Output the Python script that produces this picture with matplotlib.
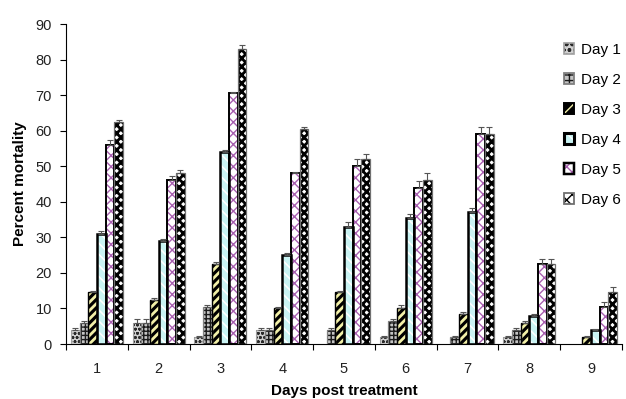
import matplotlib
matplotlib.use("Agg")
import matplotlib.pyplot as plt
from matplotlib.patches import Patch
from matplotlib.legend_handler import HandlerTuple
import numpy as np

categories = ["1", "2", "3", "4", "5", "6", "7", "8", "9"]
series_names = ["Day 1", "Day 2", "Day 3", "Day 4", "Day 5", "Day 6"]
day1 = [4, 6, 2, 4, 0, 2, 0, 2, 0]
day2 = [6, 6, 10.5, 4, 4, 6.5, 2, 4, 0]
day3 = [14.5, 12.5, 22.5, 10, 14.5, 10, 8.5, 6, 2]
day4 = [31, 29, 54, 25, 33, 35.5, 37, 8, 4]
day5 = [56, 46, 70.5, 48, 50, 44, 59, 22.5, 10.5]
day6 = [62.5, 48, 83, 60.5, 52, 46, 59, 22.5, 14.5]
err1 = [0.5, 1, 0.3, 0.5, 0, 0.3, 0, 0.3, 0]
err2 = [0.5, 1, 0.5, 0.5, 0.5, 0.5, 0.3, 0.5, 0]
err3 = [0.5, 0.5, 0.5, 0.5, 0.5, 1, 0.5, 0.5, 0.3]
err4 = [0.8, 0.5, 0.5, 0.5, 1.2, 1, 1.2, 0.5, 0.3]
err5 = [1.5, 1.2, 0.5, 0.5, 2, 1.8, 2, 1.5, 1.3]
err6 = [0.5, 1, 1, 0.5, 1.5, 2, 2, 1.5, 1.5]

values = [day1, day2, day3, day4, day5, day6]
errors = [err1, err2, err3, err4, err5, err6]

plt.rcParams['font.family'] = ['Liberation Sans', 'DejaVu Sans']

styles = [
    dict(face="#d0d0d0", hatch="oooo", hcol="#2a2a2a", hlw=0.8, edge="#a0a0a0", lw=0.8),
    dict(face="#c4c4c4", hatch="++++", hcol="#1a1a1a", hlw=1.0, edge="#808080", lw=0.9),
    dict(face="#000000", hatch="////", hcol="#f2f0a8", hlw=2.0, edge="#000000", lw=1.0),
    dict(face="#c9f3f3", hatch="\\\\\\", hcol="#ffffff", hlw=1.2, edge="#000000", lw=1.8),
    dict(face="#ffffff", hatch="xxx", hcol="#a860b0", hlw=1.0, edge="#000000", lw=1.4),
    dict(face="#ffffff", hatch="xxxx", hcol="#000000", hlw=2.0, edge="#707070", lw=0.9),
]

fig = plt.figure(figsize=(6.26, 3.99), dpi=100)
ax = fig.add_axes([66/626, 1-344/399, (622-66)/626, (344-24)/399])

x = np.arange(1, len(categories) + 1)
w = 0.14
n = len(values)
handles = []
for i, (vals, errs, st) in enumerate(zip(values, errors, styles)):
    pos = x + (i - (n - 1) / 2) * w
    v = np.array(vals, dtype=float)
    e = np.array(errs, dtype=float)
    with plt.rc_context({'hatch.linewidth': st["hlw"]}):
        ax.bar(pos, v, width=w, color=st["face"], edgecolor=st["hcol"], hatch=st["hatch"],
               linewidth=0, zorder=2)
        h1 = Patch(facecolor=st["face"], edgecolor=st["hcol"], hatch=st["hatch"][:3], linewidth=0)
    mask = v > 0
    ax.bar(pos[mask], v[mask], width=w, fill=False, edgecolor=st["edge"],
           linewidth=st["lw"], zorder=3)
    ax.errorbar(pos[mask], v[mask], yerr=[np.zeros(mask.sum()), e[mask]], fmt="none",
                ecolor="#555555", elinewidth=0.8, capsize=2.5, capthick=0.8, zorder=4)
    h2 = Patch(fill=False, edgecolor=st["edge"], linewidth=st["lw"] + 0.4)
    handles.append((h1, h2))

ax.set_xlim(0.5, len(categories) + 0.5)
ax.set_ylim(0, 90)
ax.set_yticks(np.arange(0, 91, 10))
ax.set_xticks(x)
ax.set_xticklabels(categories)
ax.set_xticks(np.arange(0.5, len(categories) + 1, 1), minor=True)
ax.tick_params(axis="x", which="major", length=0, pad=13, labelsize=10.5, labelcolor="#222222")
ax.tick_params(axis="x", which="minor", length=4, direction="out", width=0.8)
ax.tick_params(axis="y", which="major", length=4, direction="out", width=0.8, pad=6,
               labelsize=10.5, labelcolor="#222222")
for s in ["top", "right"]:
    ax.spines[s].set_visible(False)
for s in ["left", "bottom"]:
    ax.spines[s].set_linewidth(0.8)

ax.set_xlabel("Days post treatment", fontsize=11, fontweight="bold", labelpad=6)
ax.set_ylabel("Percent mortality", fontsize=11, fontweight="bold", labelpad=6)

fig.legend(handles=handles, labels=series_names, handler_map={tuple: HandlerTuple(ndivide=1, pad=0)},
           loc="upper left", bbox_to_anchor=(556/626, 1-35/399),
           frameon=False, fontsize=11, handlelength=0.7, handleheight=0.7,
           handletextpad=0.45, labelspacing=1.05, borderpad=0)

fig.savefig("out.png", dpi=100)
